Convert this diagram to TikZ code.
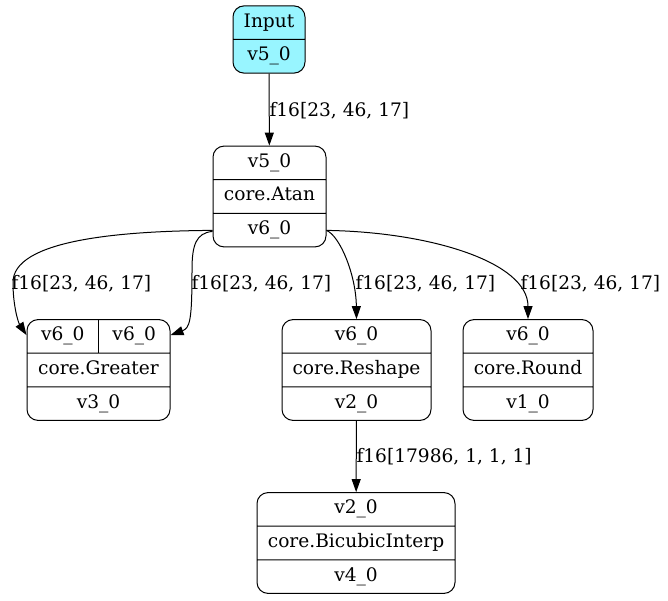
\documentclass[tikz,border=0pt]{standalone}
\usepackage{fontspec}
\setmainfont{DejaVu Serif}
\usetikzlibrary{shapes.multipart, arrows.meta}
\definecolor{inputcyan}{HTML}{98F5FF}

\begin{document}
\begin{tikzpicture}[
    x=1pt, y=-1pt,
    >={Triangle[length=13pt, width=9pt]},
    line width=1pt,
    font=\fontsize{18.6}{22}\selectfont,
    record/.style={rectangle split, rectangle split parts=3, draw, rounded corners=11pt,
        inner xsep=0pt, inner ysep=5.3pt},
    lbl/.style={anchor=west, inner sep=1pt}
]
    \useasboundingbox (0,0) rectangle (668,601);
    % Input on top, Atan below, its four consumers in a row, BicubicInterp last.
    \node[record, rectangle split parts=2, fill=inputcyan, minimum width=72pt] (input) at (269,39.5)
        {\strut Input \nodepart{two}\strut v5\_0};
    \node[record, minimum width=113pt] (atan) at (269.5,196.5)
        {\strut v5\_0 \nodepart{two}\strut core.Atan \nodepart{three}\strut v6\_0};
    \node[record, minimum width=143pt] (greater) at (98.5,370)
        {\strut\makebox[71.5pt]{v6\_0}\makebox[71.5pt]{v6\_0} \nodepart{two}\strut core.Greater \nodepart{three}\strut v3\_0};
    \node[record, minimum width=149pt] (reshape) at (356.5,370)
        {\strut v6\_0 \nodepart{two}\strut core.Reshape \nodepart{three}\strut v2\_0};
    \node[record, minimum width=130pt] (round) at (528,370)
        {\strut v6\_0 \nodepart{two}\strut core.Round \nodepart{three}\strut v1\_0};
    \node[record, minimum width=198pt] (bicubic) at (356,543)
        {\strut v2\_0 \nodepart{two}\strut core.BicubicInterp \nodepart{three}\strut v4\_0};
    \draw (greater.north) -- (greater.text split);

    \path[->]
        (input) edge (atan)
        (reshape) edge (bicubic);
    \draw[->] ([yshift=17pt]atan.south west) .. controls (120,231) and (12,240) .. (13,283)
        .. controls (13,305) and (18,322) .. ([yshift=-16pt]greater.north west);
    \draw[->] ([yshift=16pt]atan.south west) .. controls (196,233) and (192,245) .. (192,270)
        .. controls (192,320) and (190,328) .. ([yshift=-16pt]greater.north east);
    \draw[->] ([yshift=17pt]atan.south east) .. controls (340,236) and (356,275) .. (reshape.north);
    \draw[->] ([yshift=17pt]atan.south east) .. controls (430,232) and (528,262) .. (round.north);

    % edge labels
    \node[lbl] (l1) at (268,111) {f16[23, 46, 17]};
    \node[lbl] (l2) at (10,284) {f16[23, 46, 17]};
    \node[lbl] (l3) at (190,284) {f16[23, 46, 17]};
    \node[lbl] (l4) at (354,284) {f16[23, 46, 17]};
    \node[lbl] (l5) at (519,284) {f16[23, 46, 17]};
    \node[lbl] (l6) at (355,457) {f16[17986, 1, 1, 1]};
\end{tikzpicture}
\end{document}
